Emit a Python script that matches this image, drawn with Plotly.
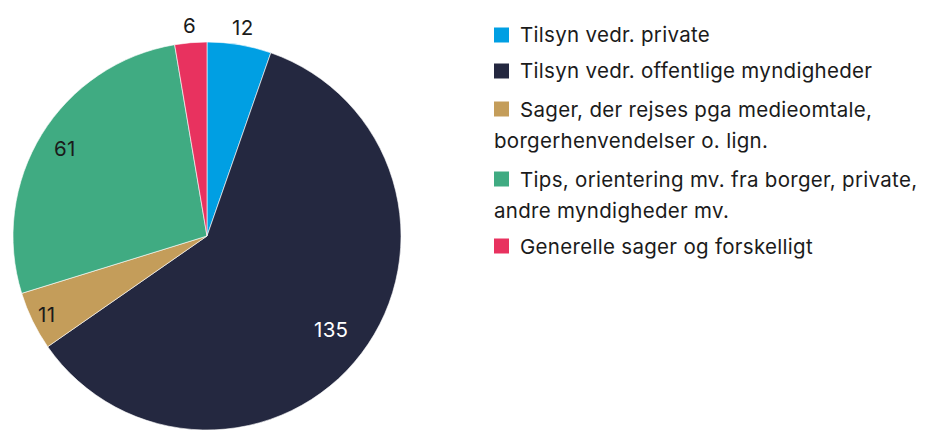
import math

import plotly.graph_objects as go

# Data
categories = [
    "Tilsyn vedr. private",
    "Tilsyn vedr. offentlige myndigheder",
    "Sager, der rejses pga medieomtale, borgerhenvendelser o. lign.",
    "Tips, orientering mv. fra borger, private, andre myndigheder mv.",
    "Generelle sager og forskelligt",
]
values = [12, 135, 11, 61, 6]
# legend lines as wrapped in the reference
legend_lines = [
    ["Tilsyn vedr. private"],
    ["Tilsyn vedr. offentlige myndigheder"],
    ["Sager, der rejses pga medieomtale,", "borgerhenvendelser o. lign."],
    ["Tips, orientering mv. fra borger, private,", "andre myndigheder mv."],
    ["Generelle sager og forskelligt"],
]

colors = ["#009fe3", "#242840", "#c49d5a", "#40ab82", "#e8325f"]
label_colors = ["#1b1b1b", "#ffffff", "#1b1b1b", "#1b1b1b", "#1b1b1b"]
# radial position of each value label, as a fraction of the pie radius
label_radius = [1.09, 0.80, 0.92, 0.86, 1.09]

FONT = "Inter"
TEXT = "#1b1b1b"
FONT_SIZE = 20.5
SPACING = "letter-spacing:0.3px"
W, H = 929, 430
OFF = 8  # page body margin pushes the figure 8px right/down

# pie geometry (figure pixels)
CX, CY, R = 207 - OFF, 236 - OFF, 194


def px(x):
    return x / W


def py(y):
    return 1 - y / H


fig = go.Figure()

fig.add_trace(
    go.Pie(
        labels=categories,
        values=values,
        sort=False,
        direction="clockwise",
        rotation=0,
        marker=dict(colors=colors, line=dict(color="#ffffff", width=0.6)),
        textinfo="none",
        showlegend=False,
        domain=dict(x=[px(CX - R), px(CX + R)], y=[py(CY + R), py(CY - R)]),
        hoverinfo="label+value",
    )
)

# value labels at the middle angle of each slice
total = sum(values)
cum = 0
for v, col, frac in zip(values, label_colors, label_radius):
    mid = (cum + v / 2) / total * 2 * math.pi
    cum += v
    fig.add_annotation(
        xref="paper",
        yref="paper",
        x=px(CX + frac * R * math.sin(mid)),
        y=py(CY - frac * R * math.cos(mid)),
        xanchor="center",
        yanchor="middle",
        text=f"<span style='{SPACING}'>{v}</span>",
        showarrow=False,
        font=dict(family=FONT, size=FONT_SIZE, color=col),
    )

# custom legend: coloured squares plus wrapped text
row_y = [35, 71, 109, 179, 246]
wrap_gap = 31
sq_x0, sq_size = 494, 15
text_x = 518

for color, lines, y in zip(colors, legend_lines, row_y):
    fig.add_shape(
        type="rect",
        xref="paper",
        yref="paper",
        x0=px(sq_x0 - OFF),
        x1=px(sq_x0 + sq_size - OFF),
        y0=py(y + sq_size / 2 - OFF),
        y1=py(y - sq_size / 2 - OFF),
        fillcolor=color,
        line=dict(width=0),
    )
    for i, line in enumerate(lines):
        fig.add_annotation(
            xref="paper",
            yref="paper",
            x=px((text_x if i == 0 else sq_x0 - 2) - OFF),
            y=py(y + i * wrap_gap - OFF),
            xanchor="left",
            yanchor="middle",
            text=f"<span style='{SPACING}'>{line}</span>",
            showarrow=False,
            font=dict(family=FONT, size=FONT_SIZE, color=TEXT),
        )

fig.update_layout(
    width=W,
    height=H,
    margin=dict(l=0, r=0, t=0, b=0),
    paper_bgcolor="#ffffff",
    plot_bgcolor="#ffffff",
    font=dict(family=FONT, color=TEXT),
)

fig.write_html("out.html")
